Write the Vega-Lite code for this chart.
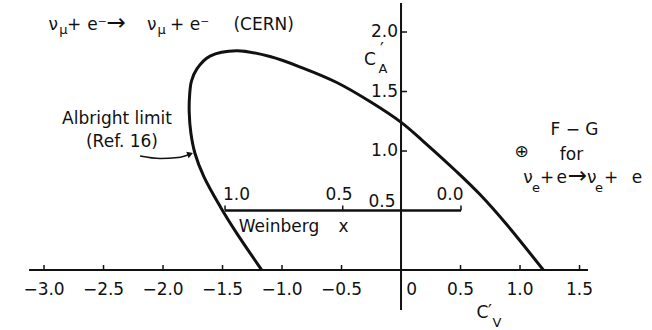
{
  "$schema": "https://vega.github.io/schema/vega-lite/v6.json",
  "width": 652,
  "height": 330,
  "autosize": "none",
  "padding": 0,
  "background": "white",
  "config": {
    "view": {"stroke": null},
    "text": {"font": "DejaVu Sans", "fontSize": 17, "color": "#111"}
  },
  "datasets": {
    "curve": [
      {"i": 1, "cv": -1.17, "ca": 0.0},
      {"i": 2, "cv": -1.38, "ca": 0.308},
      {"i": 3, "cv": -1.519, "ca": 0.532},
      {"i": 4, "cv": -1.657, "ca": 0.784},
      {"i": 5, "cv": -1.732, "ca": 0.981},
      {"i": 6, "cv": -1.766, "ca": 1.151},
      {"i": 7, "cv": -1.78, "ca": 1.328},
      {"i": 8, "cv": -1.776, "ca": 1.479},
      {"i": 9, "cv": -1.761, "ca": 1.588},
      {"i": 10, "cv": -1.714, "ca": 1.693},
      {"i": 11, "cv": -1.605, "ca": 1.798},
      {"i": 12, "cv": -1.381, "ca": 1.843},
      {"i": 13, "cv": -1.101, "ca": 1.794},
      {"i": 14, "cv": -0.824, "ca": 1.697},
      {"i": 15, "cv": -0.54, "ca": 1.576},
      {"i": 16, "cv": -0.261, "ca": 1.416},
      {"i": 17, "cv": 0.004, "ca": 1.239},
      {"i": 18, "cv": 0.187, "ca": 1.082},
      {"i": 19, "cv": 0.468, "ca": 0.826},
      {"i": 20, "cv": 0.664, "ca": 0.634},
      {"i": 21, "cv": 0.888, "ca": 0.382},
      {"i": 22, "cv": 1.196, "ca": 0.0}
    ],
    "lines": [
      {"name": "C′V axis", "cv": -3.126, "cv_end": 1.571, "ca": 0, "ca_end": 0, "w": "axis"},
      {"name": "C′A axis", "cv": 0, "cv_end": 0, "ca": -0.336, "ca_end": 2.244, "w": "axis"},
      {"name": "Weinberg x", "cv": -1.479, "cv_end": 0.504, "ca": 0.5, "ca_end": 0.5, "w": "weinberg"}
    ],
    "xticks": [
      {"cv": -3.0, "ca": 0, "label": "−3.0"},
      {"cv": -2.5, "ca": 0, "label": "−2.5"},
      {"cv": -2.0, "ca": 0, "label": "−2.0"},
      {"cv": -1.5, "ca": 0, "label": "−1.5"},
      {"cv": -1.0, "ca": 0, "label": "−1.0"},
      {"cv": -0.5, "ca": 0, "label": "−0.5"},
      {"cv": 0.5, "ca": 0, "label": "0.5"},
      {"cv": 1.0, "ca": 0, "label": "1.0"},
      {"cv": 1.5, "ca": 0, "label": "1.5"}
    ],
    "yticks": [
      {"cv": 0, "ca": 2.0, "label": "2.0"},
      {"cv": 0, "ca": 1.5, "label": "1.5"},
      {"cv": 0, "ca": 1.0, "label": "1.0"}
    ],
    "wticks": [
      {"x": 1.0, "cv": -1.479, "ca": 0.5},
      {"x": 0.5, "cv": -0.49, "ca": 0.5},
      {"x": 0.0, "cv": 0.504, "ca": 0.5}
    ],
    "arrow": [
      {"i": 1, "cv": -2.193, "ca": 0.958},
      {"i": 2, "cv": -2.025, "ca": 0.937},
      {"i": 3, "cv": -1.874, "ca": 0.945},
      {"i": 4, "cv": -1.772, "ca": 0.975}
    ],
    "notes": [
      {"text": "ν", "cv": -2.922, "ca": 2.017, "role": "text"},
      {"text": "μ", "cv": -2.838, "ca": 1.983, "role": "sub"},
      {"text": "+", "cv": -2.748, "ca": 2.017, "role": "text"},
      {"text": "e⁻", "cv": -2.555, "ca": 2.017, "role": "text"},
      {"text": "→", "cv": -2.395, "ca": 2.017, "role": "arrow"},
      {"text": "ν", "cv": -2.095, "ca": 2.017, "role": "text"},
      {"text": "μ", "cv": -2.011, "ca": 1.983, "role": "sub"},
      {"text": "+", "cv": -1.882, "ca": 2.017, "role": "text"},
      {"text": "e⁻", "cv": -1.693, "ca": 2.017, "role": "text"},
      {"text": "(CERN)", "cv": -1.155, "ca": 2.017, "role": "text"},
      {"text": "Albright limit", "cv": -2.387, "ca": 1.227, "role": "text"},
      {"text": "(Ref. 16)", "cv": -2.345, "ca": 1.034, "role": "text"},
      {"text": "Weinberg", "cv": -1.025, "ca": 0.319, "role": "text"},
      {"text": "x", "cv": -0.483, "ca": 0.319, "role": "text"},
      {"text": "1.0", "cv": -1.382, "ca": 0.588, "role": "text"},
      {"text": "0.5", "cv": -0.521, "ca": 0.588, "role": "text"},
      {"text": "0.0", "cv": 0.412, "ca": 0.588, "role": "text"},
      {"text": "0.5", "cv": -0.16, "ca": 0.529, "role": "text"},
      {"text": "0", "cv": 0.09, "ca": -0.21, "role": "text"},
      {"text": "C", "cv": -0.261, "ca": 1.723, "role": "text"},
      {"text": "′", "cv": -0.16, "ca": 1.803, "role": "text"},
      {"text": "A", "cv": -0.151, "ca": 1.655, "role": "sub"},
      {"text": "C", "cv": 0.685, "ca": -0.403, "role": "text"},
      {"text": "′", "cv": 0.748, "ca": -0.395, "role": "text"},
      {"text": "V", "cv": 0.807, "ca": -0.479, "role": "sub"},
      {"text": "F − G", "cv": 1.458, "ca": 1.134, "role": "text"},
      {"text": "⊕", "cv": 1.013, "ca": 0.95, "role": "text"},
      {"text": "for", "cv": 1.433, "ca": 0.924, "role": "text"},
      {"text": "ν", "cv": 1.067, "ca": 0.731, "role": "text"},
      {"text": "e", "cv": 1.134, "ca": 0.658, "role": "sub"},
      {"text": "+", "cv": 1.227, "ca": 0.731, "role": "text"},
      {"text": "e", "cv": 1.35, "ca": 0.731, "role": "text"},
      {"text": "→", "cv": 1.483, "ca": 0.731, "role": "arrow"},
      {"text": "ν", "cv": 1.602, "ca": 0.731, "role": "text"},
      {"text": "e", "cv": 1.664, "ca": 0.658, "role": "sub"},
      {"text": "+", "cv": 1.765, "ca": 0.731, "role": "text"},
      {"text": "e", "cv": 1.983, "ca": 0.731, "role": "text"}
    ]
  },
  "encoding": {
    "x": {"field": "cv", "type": "quantitative", "scale": {"domain": [-3.37, 2.109], "nice": false, "zero": false}, "axis": null},
    "y": {"field": "ca", "type": "quantitative", "scale": {"domain": [-0.504, 2.269], "nice": false, "zero": false}, "axis": null}
  },
  "layer": [
    {
      "data": {"name": "lines"},
      "transform": [{"filter": "datum.w == 'axis'"}],
      "mark": {"type": "rule", "color": "#111", "strokeWidth": 2},
      "encoding": {"x2": {"field": "cv_end"}, "y2": {"field": "ca_end"}}
    },
    {
      "data": {"name": "lines"},
      "transform": [{"filter": "datum.w == 'weinberg'"}],
      "mark": {"type": "rule", "color": "#111", "strokeWidth": 2.6},
      "encoding": {"x2": {"field": "cv_end"}, "y2": {"field": "ca_end"}}
    },
    {
      "data": {"name": "curve"},
      "mark": {"type": "line", "color": "#111", "strokeWidth": 3, "interpolate": "catmull-rom"},
      "encoding": {"order": {"field": "i", "type": "quantitative"}}
    },
    {
      "data": {"name": "xticks"},
      "mark": {"type": "tick", "orient": "vertical", "size": 5, "thickness": 1.5, "yOffset": -2.5, "color": "#111", "opacity": 1}
    },
    {
      "data": {"name": "xticks"},
      "mark": {"type": "text", "align": "center", "baseline": "alphabetic", "dy": 25},
      "encoding": {"text": {"field": "label"}}
    },
    {
      "data": {"name": "yticks"},
      "mark": {"type": "tick", "orient": "horizontal", "size": 6, "thickness": 1.5, "xOffset": 3, "color": "#111", "opacity": 1}
    },
    {
      "data": {"name": "yticks"},
      "mark": {"type": "text", "align": "right", "baseline": "middle", "dx": -3},
      "encoding": {"text": {"field": "label"}}
    },
    {
      "data": {"name": "wticks"},
      "mark": {"type": "tick", "orient": "vertical", "size": 5, "thickness": 1.5, "yOffset": -2.5, "color": "#111", "opacity": 1}
    },
    {
      "data": {"name": "arrow"},
      "mark": {"type": "line", "color": "#111", "strokeWidth": 1.5, "interpolate": "monotone"},
      "encoding": {"order": {"field": "i", "type": "quantitative"}}
    },
    {
      "data": {"name": "arrow"},
      "transform": [{"filter": "datum.i == 4"}],
      "mark": {"type": "point", "shape": "triangle-right", "size": 45, "filled": true, "color": "#111", "opacity": 1, "angle": -20}
    },
    {
      "data": {"name": "notes"},
      "transform": [{"filter": "datum.role == 'text'"}],
      "mark": {"type": "text", "align": "center", "baseline": "alphabetic", "fontSize": 17},
      "encoding": {"text": {"field": "text"}}
    },
    {
      "data": {"name": "notes"},
      "transform": [{"filter": "datum.role == 'sub'"}],
      "mark": {"type": "text", "align": "center", "baseline": "alphabetic", "fontSize": 13},
      "encoding": {"text": {"field": "text"}}
    },
    {
      "data": {"name": "notes"},
      "transform": [{"filter": "datum.role == 'arrow'"}],
      "mark": {"type": "text", "align": "center", "baseline": "alphabetic", "fontSize": 23},
      "encoding": {"text": {"field": "text"}}
    }
  ]
}
